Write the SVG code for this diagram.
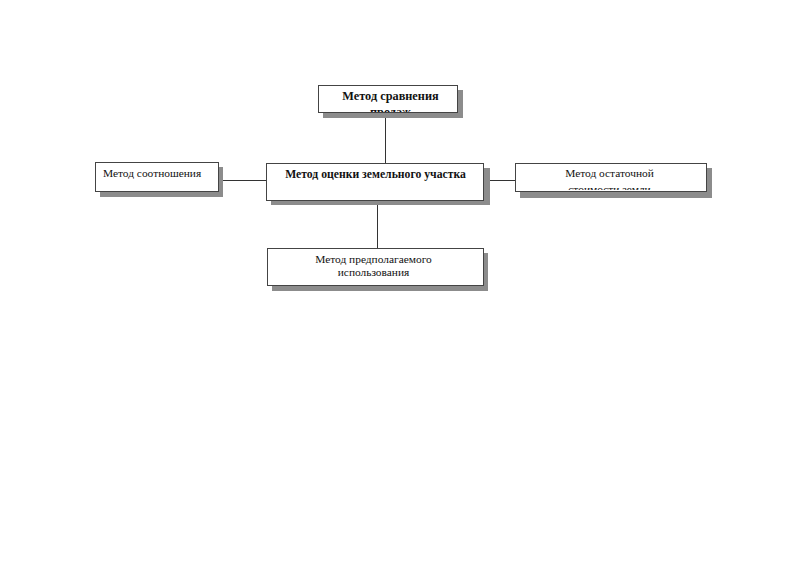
<svg xmlns="http://www.w3.org/2000/svg" width="800" height="565" viewBox="0 0 800 565">
<style>
.box{fill:#fff;stroke:#444;stroke-width:1}
.sh{fill:#8c8c8c}
.t{font-family:"Liberation Serif","Times New Roman",serif;font-size:11.4px;fill:#111}
.b{font-weight:bold}
.c{stroke:#333;stroke-width:1;fill:none}
</style>
<defs>
<clipPath id="cTop"><rect x="318" y="85" width="139" height="27"/></clipPath>
<clipPath id="cRight"><rect x="515" y="163" width="192" height="27"/></clipPath>
</defs>
<rect width="800" height="565" fill="#fff"/>
<g id="connectors">
<line class="c" x1="385.5" y1="113" x2="385.5" y2="163"/>
<line class="c" x1="218" y1="180.5" x2="266" y2="180.5"/>
<line class="c" x1="484" y1="180.5" x2="515" y2="180.5"/>
<line class="c" x1="377.5" y1="201" x2="377.5" y2="248"/>
</g>
<g id="node-top">
<rect class="sh" x="323" y="90" width="140" height="28"/>
<rect class="box" x="318.5" y="85.5" width="139" height="27"/>
<g clip-path="url(#cTop)">
<text class="t b" x="390.5" y="99.5" text-anchor="middle" style="font-size:12.3px">Метод сравнения</text>
<text class="t b" x="390.5" y="116" text-anchor="middle" style="font-size:12.3px">продаж</text>
</g>
</g>
<g id="node-center">
<rect class="sh" x="271" y="168" width="219" height="37"/>
<rect class="box" x="266.5" y="163.5" width="217" height="37"/>
<text class="t b" x="375.5" y="177.5" text-anchor="middle" style="font-size:11.7px">Метод оценки земельного участка</text>
</g>
<g id="node-left">
<rect class="sh" x="100" y="167" width="123" height="30"/>
<rect class="box" x="95.5" y="162.5" width="123" height="29"/>
<text class="t" x="103" y="177">Метод соотношения</text>
</g>
<g id="node-right">
<rect class="sh" x="520" y="168" width="192" height="30"/>
<rect class="box" x="515.5" y="163.5" width="191" height="28"/>
<g clip-path="url(#cRight)">
<text class="t" x="609.5" y="176.5" text-anchor="middle">Метод остаточной</text>
<text class="t" x="609.5" y="192.5" text-anchor="middle">стоимости земли</text>
</g>
</g>
<g id="node-bottom">
<rect class="sh" x="272" y="253" width="216" height="38"/>
<rect class="box" x="267.5" y="248.5" width="216" height="37"/>
<text class="t" x="373.5" y="263" text-anchor="middle">Метод предполагаемого</text>
<text class="t" x="373.5" y="276" text-anchor="middle">использования</text>
</g>
</svg>
